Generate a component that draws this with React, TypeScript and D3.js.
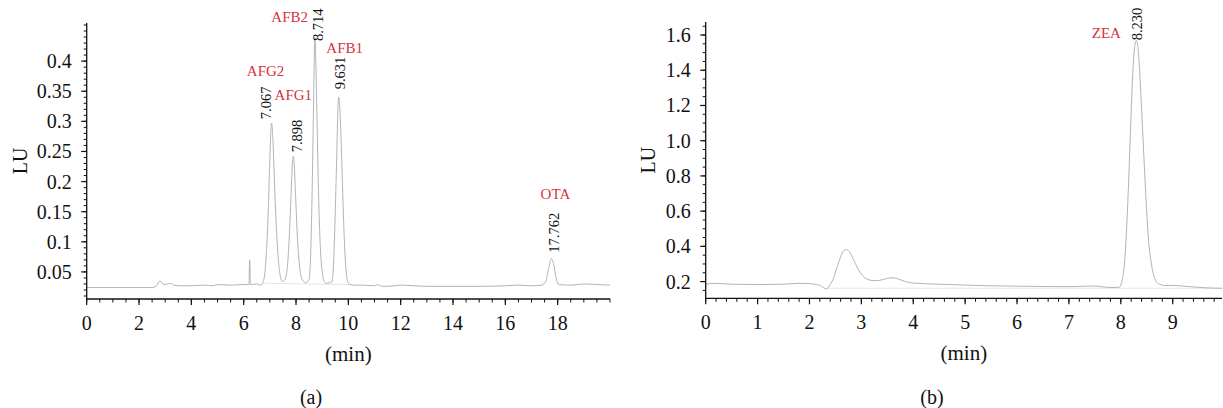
import React from 'react';
import * as d3 from 'd3';

// chromatogram (a): time (min), signal (LU)
const timeA = [
  0, 0.5, 1, 1.5, 2, 2.5, 2.65, 2.8, 2.95, 3.1, 3.2, 3.35, 3.6, 4, 4.5, 4.8, 5, 5.5, 6, 6.2, 6.23, 6.26, 6.5, 6.65,
  6.75, 6.85, 6.92, 6.98, 7.03, 7.067, 7.1, 7.16, 7.22, 7.3, 7.38, 7.48,
  7.6, 7.7, 7.77, 7.83, 7.87, 7.898, 7.93, 7.98, 8.05, 8.14, 8.25, 8.38,
  8.5, 8.56, 8.61, 8.66, 8.7, 8.714, 8.74, 8.79, 8.85, 8.92, 9.0, 9.08, 9.16,
  9.38, 9.44, 9.5, 9.56, 9.6, 9.631, 9.67, 9.73, 9.8, 9.87, 9.94, 10.02, 10.2,
  10.5, 11, 11.1, 11.3, 11.5, 12, 12.5, 13, 14, 15, 16, 16.5, 17, 17.4,
  17.55, 17.65, 17.762, 17.85, 17.95, 18.05, 18.5, 19, 19.5, 20,
];
const signalA = [
  0.024, 0.024, 0.024, 0.024, 0.024, 0.024, 0.026, 0.035, 0.029, 0.03, 0.031, 0.028, 0.027, 0.027, 0.028, 0.027, 0.029, 0.028, 0.029, 0.029, 0.07, 0.029, 0.03, 0.028,
  0.034, 0.07, 0.13, 0.21, 0.275, 0.297, 0.285, 0.22, 0.15, 0.085, 0.048, 0.034,
  0.04, 0.075, 0.135, 0.2, 0.236, 0.242, 0.23, 0.18, 0.11, 0.058, 0.036, 0.032,
  0.038, 0.08, 0.17, 0.3, 0.41, 0.44, 0.425, 0.33, 0.2, 0.1, 0.05, 0.034, 0.031,
  0.034, 0.07, 0.15, 0.25, 0.32, 0.34, 0.325, 0.26, 0.16, 0.08, 0.042, 0.03, 0.028,
  0.028, 0.027, 0.029, 0.026, 0.026, 0.028, 0.027, 0.026, 0.026, 0.026, 0.027, 0.028, 0.027, 0.028,
  0.035, 0.055, 0.072, 0.062, 0.038, 0.029, 0.028, 0.03, 0.029, 0.028,
];
const baseTimeA = [6.75, 10.1];
const baseSignalA = [0.031, 0.029];

const peakNamesA = ['AFG2', 'AFG1', 'AFB2', 'AFB1', 'OTA'];
const peakLabelsA = ['7.067', '7.898', '8.714', '9.631', '17.762'];
const peakTimesA = [7.067, 7.898, 8.714, 9.631, 17.762];
const peakHeightsA = [0.297, 0.242, 0.44, 0.34, 0.072];

const xTicksA = [0, 2, 4, 6, 8, 10, 12, 14, 16, 18];
const yTicksA = [0.05, 0.1, 0.15, 0.2, 0.25, 0.3, 0.35, 0.4];
const yTickLabelsA = ['0.05', '0.1', '0.15', '0.2', '0.25', '0.3', '0.35', '0.4'];

// chromatogram (b)
const timeB = [
  0, 0.18, 0.5, 1, 1.5, 1.8, 2.0, 2.2, 2.33,
  2.38, 2.45, 2.53, 2.6, 2.66, 2.71, 2.77, 2.84, 2.93, 3.02, 3.12, 3.25, 3.35, 3.5, 3.6, 3.7, 3.85, 4.0,
  4.5, 5, 5.5, 6, 6.5, 7, 7.3, 7.5, 7.7, 7.85,
  7.97, 8.02, 8.07, 8.12, 8.18, 8.23, 8.27, 8.3, 8.34, 8.38, 8.43, 8.48, 8.53, 8.59, 8.65, 8.74, 8.85,
  9, 9.3, 9.6, 9.95,
];
const signalB = [
  0.185, 0.19, 0.185, 0.183, 0.185, 0.19, 0.188, 0.178, 0.158,
  0.175, 0.21, 0.28, 0.34, 0.375, 0.382, 0.37, 0.33, 0.275, 0.235, 0.212, 0.205, 0.207, 0.218, 0.222, 0.216, 0.2, 0.192,
  0.185, 0.18, 0.176, 0.174, 0.172, 0.171, 0.174, 0.175, 0.168, 0.166,
  0.168, 0.2, 0.3, 0.55, 1.0, 1.38, 1.54, 1.57, 1.5, 1.3, 1.0, 0.7, 0.45, 0.3, 0.22, 0.185, 0.178,
  0.178, 0.172, 0.165, 0.162,
];
const baseTimeB = [2.33, 9.95];
const baseSignalB = [0.162, 0.162];

const peakNamesB = ['ZEA'];
const peakLabelsB = ['8.230'];
const peakTimesB = [8.3];
const peakHeightsB = [1.57];

const xTicksB = [0, 1, 2, 3, 4, 5, 6, 7, 8, 9];
const yTicksB = [0.2, 0.4, 0.6, 0.8, 1.0, 1.2, 1.4, 1.6];

const RED = '#d4343c';
const FONT = '"Liberation Serif", "Times New Roman", serif';

type PanelProps = {
  times: number[];
  signal: number[];
  baseT: number[];
  baseS: number[];
  names: string[];
  labels: string[];
  peakT: number[];
  peakH: number[];
  xDomain: [number, number];
  xRange: [number, number];
  yDomain: [number, number];
  yRange: [number, number];
  xTicks: number[];
  xMinorStep: number;
  yTicks: number[];
  yTickLabels: string[];
  yMinorStep: number;
  nameOffsets: [number, number][];
  labelOffsets: [number, number][];
  luX: number;
  caption: string;
  captionX: number;
};

const Panel = (p: PanelProps) => {
  const x = d3.scaleLinear().domain(p.xDomain).range(p.xRange);
  const y = d3.scaleLinear().domain(p.yDomain).range(p.yRange);
  const pts: [number, number][] = p.times.map((t, i) => [t, p.signal[i]]);
  const line = d3.line<[number, number]>()
    .x(d => x(d[0]))
    .y(d => y(d[1]))
    .curve(d3.curveMonotoneX);
  const basePts: [number, number][] = p.baseT.map((t, i) => [t, p.baseS[i]]);

  const x0 = p.xRange[0];
  const y0 = p.yRange[0];
  const xMinor = d3.range(p.xDomain[0], p.xDomain[1] + 1e-9, p.xMinorStep);
  const yMinor = d3.range(Math.ceil(p.yDomain[0] / p.yMinorStep) * p.yMinorStep, p.yDomain[1], p.yMinorStep);
  const midX = (p.xRange[0] + p.xRange[1]) / 2;
  const midY = (p.yRange[0] + p.yRange[1]) / 2;

  return (
    <g fontFamily={FONT}>
      <path d={line(basePts) || ''} fill="none" stroke="#e0e0e0" strokeWidth={0.8} />
      <path d={line(pts) || ''} fill="none" stroke="#a6a6a6" strokeWidth={0.85} />

      {/* axes */}
      <line x1={x0} x2={x0} y1={p.yRange[1]} y2={y0} stroke="#111" strokeWidth={1.3} />
      <line x1={x0} x2={p.xRange[1]} y1={y0} y2={y0} stroke="#111" strokeWidth={1.3} />
      {xMinor.map((v, i) => (
        <line key={'xm' + i} x1={x(v)} x2={x(v)} y1={y0} y2={y0 + 3.5} stroke="#111" strokeWidth={1} />
      ))}
      {p.xTicks.map(v => (
        <g key={'xt' + v}>
          <line x1={x(v)} x2={x(v)} y1={y0} y2={y0 + 6} stroke="#111" strokeWidth={1.2} />
          <text x={x(v)} y={y0 + 31} textAnchor="middle" fontSize={20} fill="#111">{v}</text>
        </g>
      ))}
      {yMinor.map((v, i) => (
        <line key={'ym' + i} x1={x0 - 3} x2={x0} y1={y(v)} y2={y(v)} stroke="#111" strokeWidth={1} />
      ))}
      {p.yTicks.map((v, i) => (
        <g key={'yt' + i}>
          <line x1={x0 - 5.5} x2={x0} y1={y(v)} y2={y(v)} stroke="#111" strokeWidth={1.2} />
          <text x={x0 - 15} y={y(v)} dy="0.35em" textAnchor="end" fontSize={20} fill="#111">{p.yTickLabels[i]}</text>
        </g>
      ))}

      <text x={midX} y={y0 + 62} textAnchor="middle" fontSize={21} fill="#111">(min)</text>
      <text transform={`translate(${p.luX},${midY}) rotate(-90)`} dy="0.35em" textAnchor="middle" fontSize={20} fill="#111">LU</text>
      <text x={p.captionX} y={404} textAnchor="middle" fontSize={20} fill="#111">{p.caption}</text>

      {/* peak annotations */}
      {p.peakT.map((t, i) => {
        const px = x(t);
        const py = y(p.peakH[i]);
        const [ndx, ndy] = p.nameOffsets[i];
        const [ldx, ldy] = p.labelOffsets[i];
        return (
          <g key={'pk' + i}>
            <text x={px + ndx} y={py + ndy} textAnchor="middle" fontSize={15} fill={RED}>{p.names[i]}</text>
            <text transform={`translate(${px + ldx},${py + ldy}) rotate(-90)`} dy="0.35em" textAnchor="start" fontSize={14.5} fill="#111">{p.labels[i]}</text>
          </g>
        );
      })}
    </g>
  );
};

const App = () => {
  return (
    <div style={{ position: 'absolute', left: 0, top: 0 }}>
      <svg width={1223} height={408} style={{ display: 'block', background: '#fff' }}>
        <Panel
          times={timeA} signal={signalA} baseT={baseTimeA} baseS={baseSignalA}
          names={peakNamesA} labels={peakLabelsA} peakT={peakTimesA} peakH={peakHeightsA}
          xDomain={[0, 20]} xRange={[86.7, 610]}
          yDomain={[0.005, 0.4633]} yRange={[299, 23]}
          xTicks={xTicksA} xMinorStep={0.5}
          yTicks={yTicksA} yTickLabels={yTickLabelsA} yMinorStep={0.01}
          nameOffsets={[[-6, -47], [0, -56], [-25, -15], [6, -44], [4, -60]]}
          labelOffsets={[[-5.5, -4], [3.5, -4], [3, 4], [1, -8], [2, -6]]}
          luX={20} caption="(a)" captionX={311}
        />
        <Panel
          times={timeB} signal={signalB} baseT={baseTimeB} baseS={baseSignalB}
          names={peakNamesB} labels={peakLabelsB} peakT={peakTimesB} peakH={peakHeightsB}
          xDomain={[0, 9.95]} xRange={[705.7, 1222]}
          yDomain={[0.105, 1.674]} yRange={[298.3, 22]}
          xTicks={xTicksB} xMinorStep={0.2}
          yTicks={yTicksB} yTickLabels={yTicksB.map(d3.format('.1f'))} yMinorStep={0.05}
          nameOffsets={[[-30, -2]]}
          labelOffsets={[[1, 0]]}
          luX={648} caption="(b)" captionX={932}
        />
      </svg>
    </div>
  );
};

export default App;
